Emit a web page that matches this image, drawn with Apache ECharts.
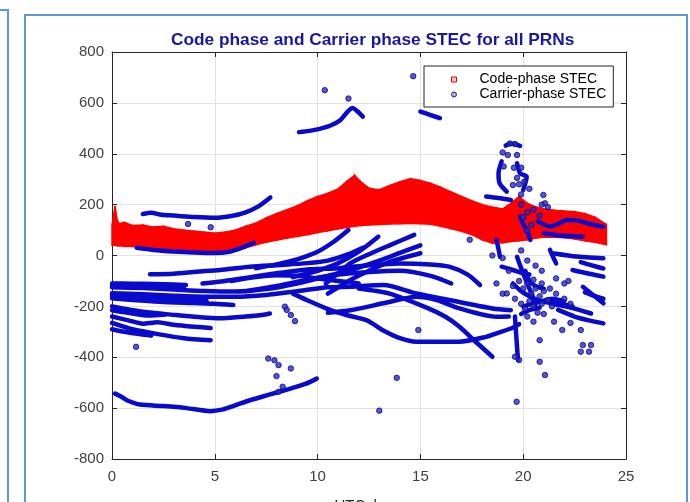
<!DOCTYPE html>
<html>
<head>
<meta charset="utf-8">
<script src="https://cdn.jsdelivr.net/npm/echarts@6/dist/echarts.min.js"></script>
<style>
html,body{margin:0;padding:0;background:#fff;}
#chart{width:690px;height:502px;}
</style>
</head>
<body>
<div id="chart"></div>
<script>
// ---- axis ticks ----
const xTicks = [0, 5, 10, 15, 20, 25];
const yTicks = [-800, -600, -400, -200, 0, 200, 400, 600, 800];

// ---- Code-phase STEC band (lower and upper edge) ----
const codeHours = [0, 0.15, 0.25, 0.35, 0.6, 1, 1.5, 2, 2.5, 3, 3.5, 4, 4.5, 5, 5.5, 6, 6.5, 7, 7.5, 8, 8.5, 9, 9.5, 10, 10.5, 11, 11.4, 11.8, 12.1, 12.5, 13, 13.5, 14, 14.5, 15, 15.5, 16, 16.5, 17, 17.5, 18, 18.5, 19, 19.4, 19.8, 20.2, 20.6, 21, 21.5, 22, 22.5, 23, 23.5, 24.05];
const codeHigh = [120, 195, 140, 125, 130, 118, 120, 112, 115, 105, 100, 96, 92, 88, 92, 100, 115, 128, 148, 165, 180, 195, 215, 232, 245, 262, 290, 315, 290, 265, 258, 275, 290, 302, 295, 284, 268, 250, 232, 215, 200, 190, 183, 205, 232, 205, 192, 183, 178, 175, 172, 165, 150, 122];
const codeLow = [40, 40, 38, 38, 36, 35, 33, 30, 27, 24, 20, 17, 14, 12, 14, 20, 30, 42, 52, 60, 68, 75, 82, 90, 97, 105, 110, 115, 118, 120, 122, 124, 125, 126, 125, 123, 115, 105, 95, 82, 62, 48, 50, 55, 58, 62, 68, 72, 72, 70, 65, 58, 52, 42];

// ---- Carrier-phase STEC tracks [hour, STEC] ----
const carrierTracks = [
  [[9.1,485],[9.6,490],[10.1,498],[10.6,510],[11.1,532],[11.45,565],[11.7,580],[11.95,566],[12.2,546]],
  [[15.0,566],[15.5,552],[15.95,540]],
  [[1.5,163],[1.9,168],[2.4,160],[3,157],[4,151],[5,148],[5.8,155],[6.5,170],[7.1,192],[7.7,228]],
  [[1.2,30],[2,22],[3,16],[4,12],[5,10],[5.7,15],[6.3,30],[6.9,50]],
  [[18.2,232],[18.8,226],[19.4,218]],
  [[19.15,432],[19.4,440],[19.85,431]],
  [[18.95,370],[18.8,323],[18.85,284],[19.2,251]],
  [[19.7,363],[19.85,323],[20.17,310],[20.0,258]],
  [[20.7,135],[21.3,114],[21.8,128],[22.1,140],[22.6,138],[23.2,125],[23.9,113]],
  [[21.0,87],[21.5,82],[22.0,78],[22.5,76],[22.9,74]],
  [[19.85,153],[20.0,125],[20.2,95],[20.35,61]],
  [[21.5,8],[22.6,-4],[23.9,-11]],
  [[22.8,-26],[23.3,-38],[23.9,-51]],
  [[18.7,61],[18.8,25],[18.87,-5]],
  [[18.95,-44],[19.5,-57],[20.0,-70],[20.3,-75]],
  [[21.3,22],[21.45,-5],[21.6,-31]],
  [[22.4,-57],[23.1,-70],[23.9,-83]],
  [[22.9,-123],[23.4,-155],[23.9,-188]],
  [[21.7,-214],[22.5,-240],[23.2,-255],[23.9,-267]],
  [[21.3,-188],[22.3,-205],[23.3,-228]],
  [[19.6,-240],[19.65,-300],[19.7,-360],[19.75,-411]],
  [[19.7,-5],[19.9,-50],[20.1,-90],[20.3,-130],[20.5,-170],[20.6,-200]],
  [[19.5,-110],[19.9,-140],[20.3,-160],[20.7,-175],[21.2,-185],[21.8,-190],[22.4,-200]],
  [[20.0,-200],[20.4,-190],[20.9,-180],[21.4,-170],[22.0,-180]],
  [[19.9,-230],[20.3,-215],[20.8,-205]],
  [[20.1,-60],[20.3,-100],[20.6,-120],[21.0,-130]],
  [[23.0,-145],[23.5,-160],[23.9,-170]],
  [[0,-110],[1,-111],[2,-112],[3,-114],[3.6,-116]],
  [[0,-118],[1.2,-122],[2.5,-125],[3.5,-128]],
  [[0,-125],[1.5,-128],[3,-134],[4.5,-140],[6,-142],[7.5,-132],[9,-110],[10.5,-80],[11.5,-60],[13,-20],[14,10],[15,40]],
  [[0,-148],[1.5,-152],[3,-158],[4.5,-162],[6,-162],[7.5,-155],[9,-140],[10.5,-125],[11.6,-123],[13.2,-116],[14.8,-149],[16.4,-175],[18.5,-208],[19.4,-215]],
  [[0,-158],[1,-160],[2,-165],[3,-170],[4,-175],[4.6,-178]],
  [[0,-168],[1,-175],[2.3,-182],[4,-187],[5,-190],[5.9,-195]],
  [[0,-200],[1.5,-221],[3.1,-234],[4.2,-242],[5.25,-247],[6.5,-240],[7.2,-235],[7.68,-228]],
  [[0,-215],[1,-228],[1.8,-236],[2.6,-232]],
  [[0,-240],[0.8,-255],[1.5,-268],[2.2,-262],[3,-272],[4,-280],[4.8,-285]],
  [[0,-265],[1,-290],[2.3,-310],[3.5,-325],[4.8,-333]],
  [[0,-290],[0.6,-300],[1.4,-310],[1.9,-315]],
  [[0.15,-543],[0.45,-555],[0.75,-570],[1.36,-586],[2.5,-592],[3.63,-600],[4.77,-612],[5.4,-605],[5.9,-592],[6.71,-569],[7.6,-548],[8.6,-525],[9.4,-505],[9.96,-484]],
  [[1.85,-74],[3,-72],[4.1,-64],[5.25,-57],[6.7,-44],[8.2,-37],[9.5,-30],[10.5,-20],[11.5,5],[12.2,30]],
  [[4.4,-110],[5.5,-100],[6.5,-88],[8,-70],[9.5,-55],[11,-50],[12.5,-38],[14,-31],[15.5,-35],[16.4,-44],[17.3,-75],[17.9,-116]],
  [[7.0,-50],[8,-35],[9,-15],[10,15],[10.8,55],[11.5,100]],
  [[8.8,-85],[10,-60],[11,-30],[12,15],[12.95,74]],
  [[10.4,-110],[11,-70],[11.6,-30],[12.5,5],[13.5,40],[14.7,81]],
  [[10.5,-150],[11.6,-96],[12.5,-60],[13.5,-25],[15,9]],
  [[8.8,-150],[9.47,-175],[10.6,-214],[11.4,-234],[12.4,-255],[13.2,-295],[14,-325],[14.8,-339],[16.9,-339],[18.2,-320],[18.7,-306],[19.4,-287],[19.8,-270]],
  [[10.5,-225],[11.6,-215],[13.2,-188],[14.8,-162],[15.8,-175],[16.9,-208],[18.7,-241],[19.3,-240]],
  [[12,-130],[13.5,-150],[15.3,-205],[16.2,-240],[16.9,-280],[17.7,-340],[18.5,-398]],
  [[5.8,-100],[7,-85],[8,-78],[9,-80],[10,-90],[11,-100],[12,-110]],
  [[6.5,-140],[8,-120],[9.5,-95],[11,-75],[12.5,-65],[14,-60],[15.5,-80],[16.5,-110]]
];

// ---- Carrier-phase STEC isolated points [hour, STEC] ----
const carrierDots = [
  [10.35,650],[11.5,617],[14.65,705],[3.7,124],[4.8,111],[1.17,-359],
  [8.41,-201],[8.5,-214],[8.7,-234],[8.9,-258],
  [7.6,-405],[7.9,-412],[8.1,-431],[8.7,-444],[8.0,-474],[8.3,-516],[8.1,-536],
  [13.85,-481],[13.0,-610],[14.9,-293],[19.68,-575],
  [19.35,440],[19.6,438],[19.0,405],[19.25,395],[19.7,395],[19.05,350],[19.55,345],[19.9,345],
  [19.7,305],[20.05,290],[19.5,277],[19.8,280],[19.9,240],[20.3,262],[20.98,238],[21.06,205],
  [19.9,200],[20.2,170],[20.5,180],[20.9,200],[21.2,190],[20.4,120],[20.0,150],[20.8,157],[20.17,99],
  [19.0,-150],[19.2,-149],[18.7,-110],[19.5,-120],[19.8,-100],[20.0,-130],[20.2,-110],[20.4,-150],
  [20.6,-130],[20.8,-160],[21.0,-140],[20.3,-180],[20.5,-200],[20.9,-190],[21.2,-175],[20.1,-210],
  [19.9,-190],[20.7,-225],[21.0,-230],[21.4,-200],[20.2,-240],[19.6,-170],[20.5,-95],[20.9,-110],
  [21.3,-130],[21.6,-150],[22.0,-170],[22.3,-190],[20.8,-333],[20.8,-418],[21.06,-470],[22.9,-352],
  [22.8,-378],[19.6,-398],[19.8,-411],[21.9,-293],[22.8,-293],[23.2,-378],[23.3,-352],[20.5,-260],
  [21.5,-260],[22.3,-265],[19.3,-60],[19.9,20],[20.2,-20],[20.6,-40],[20.9,-60],[21.6,-90],
  [22.0,-110],[22.2,-100],[17.4,62],[18.5,0],[19.0,-10]
];

const FONT = 'Liberation Sans, Arial, sans-serif';
const BLUE = '#0a0acd';
const RED = '#ff0000';

const series = [];
// red band drawn as quads between lower and upper edge, positioned through the axes
series.push({
  name: 'Code-phase STEC', type: 'custom',
  data: codeHours.map((h, i) => [h, codeLow[i], codeHigh[i]]),
  encode: { x: 0, y: [1, 2] },
  itemStyle: { color: RED },
  silent: true, z: 2,
  renderItem: function (params, api) {
    const i = params.dataIndex;
    if (i >= codeHours.length - 1) return null;
    const pts = [
      api.coord([codeHours[i], codeLow[i]]),
      api.coord([codeHours[i + 1], codeLow[i + 1]]),
      api.coord([codeHours[i + 1], codeHigh[i + 1]]),
      api.coord([codeHours[i], codeHigh[i]])
    ];
    return {
      type: 'polygon',
      shape: { points: pts },
      style: { fill: RED, stroke: RED, lineWidth: 1.5 }
    };
  }
});
carrierTracks.forEach(tr => {
  series.push({
    name: 'Carrier-phase STEC', type: 'line',
    data: tr, showSymbol: false, symbol: 'none', smooth: 0.25,
    lineStyle: { color: BLUE, width: 4.5, cap: 'round', join: 'round' },
    itemStyle: { color: BLUE },
    silent: true, z: 3
  });
});
series.push({
  name: 'Carrier-phase STEC', type: 'scatter',
  data: carrierDots, symbol: 'circle', symbolSize: 5.5,
  itemStyle: { color: '#2a2ac0', borderColor: '#0a0a9a', borderWidth: 1 },
  silent: true, z: 3
});

const axisCommon = {
  axisLine: { show: true, onZero: false, lineStyle: { color: '#262626', width: 1 } },
  axisTick: { show: true, inside: true, length: 5, lineStyle: { color: '#262626' } }
};

const chart = echarts.init(document.getElementById('chart'), null, { renderer: 'canvas' });
chart.setOption({
  animation: false,
  backgroundColor: '#fff',
  title: {
    text: 'Code phase and Carrier phase STEC for all PRNs',
    left: 166, top: 27,
    textStyle: { fontFamily: FONT, fontSize: 17.3, fontWeight: 'bold', color: '#1717a0' }
  },
  legend: {
    orient: 'vertical', left: 424, top: 66,
    padding: [6, 7, 5, 27],
    itemWidth: 5, itemHeight: 5, itemGap: 0,
    borderColor: '#262626', borderWidth: 1, backgroundColor: '#fff',
    selectedMode: false,
    textStyle: { fontFamily: FONT, fontSize: 14, color: '#000', lineHeight: 15, padding: [0, 0, 0, 18] },
    data: [
      { name: 'Code-phase STEC', icon: 'rect', itemStyle: { color: '#ffc8c8', borderColor: '#e00000', borderWidth: 1 } },
      { name: 'Carrier-phase STEC', icon: 'circle', itemStyle: { color: '#b0b0e0', borderColor: '#2020a0', borderWidth: 1 } }
    ]
  },
  graphic: [
    { type: 'rect', silent: true, z: 10, shape: { x: 25, y: 15, width: 662, height: 520 },
      style: { fill: 'none', stroke: '#5b9bd5', lineWidth: 2 } },
    { type: 'polyline', silent: true, z: 10, shape: { points: [[-2, 10], [8, 10], [8, 520]] },
      style: { fill: 'none', stroke: '#5b9bd5', lineWidth: 2 } }
  ],
  grid: { left: 112, top: 52, width: 514, height: 407, show: false, containLabel: false, outerBoundsMode: 'none' },
  xAxis: [
    Object.assign({
      type: 'value', position: 'bottom',
      min: xTicks[0], max: xTicks[xTicks.length - 1], interval: xTicks[1] - xTicks[0],
      axisLabel: { margin: 10, color: '#404040', fontSize: 15, fontFamily: FONT },
      splitLine: { show: true, lineStyle: { color: '#e2e2e2', width: 1 } },
      name: 'UTC, hour', nameLocation: 'middle', nameGap: 39,
      nameTextStyle: { fontFamily: FONT, fontSize: 15, color: '#262626' }
    }, axisCommon),
    Object.assign({
      type: 'value', position: 'top',
      min: xTicks[0], max: xTicks[xTicks.length - 1], interval: xTicks[1] - xTicks[0],
      axisLabel: { show: false }, splitLine: { show: false }
    }, axisCommon)
  ],
  yAxis: [
    Object.assign({
      type: 'value', position: 'left',
      min: yTicks[0], max: yTicks[yTicks.length - 1], interval: yTicks[1] - yTicks[0],
      axisLabel: { margin: 8, color: '#404040', fontSize: 15, fontFamily: FONT },
      splitLine: { show: true, lineStyle: { color: '#e2e2e2', width: 1 } }
    }, axisCommon),
    Object.assign({
      type: 'value', position: 'right',
      min: yTicks[0], max: yTicks[yTicks.length - 1], interval: yTicks[1] - yTicks[0],
      axisLabel: { show: false }, splitLine: { show: false }
    }, axisCommon)
  ],
  series: series
});
</script>
</body>
</html>
